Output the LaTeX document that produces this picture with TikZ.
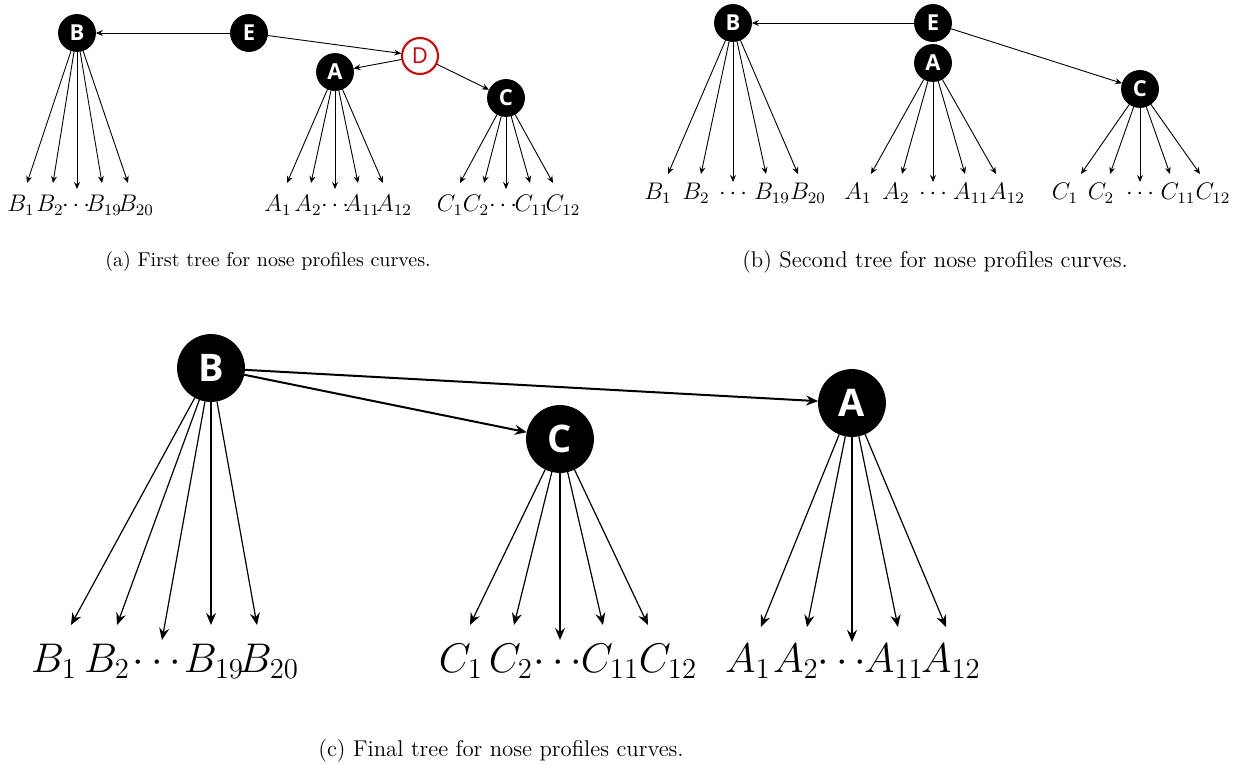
\documentclass[tikz,border=0pt]{standalone}
\usepackage{fontspec}
\newfontfamily\nodefont{Open Sans}
\usetikzlibrary{arrows.meta}
\begin{document}
\begin{tikzpicture}[x=0.5pt,y=-0.5pt,
  nd/.style={circle, fill=black, draw=black, inner sep=0pt, minimum size=18.5pt, text=white, font=\nodefont\bfseries\fontsize{11}{11}\selectfont},
  ndred/.style={circle, fill=white, draw=red!85!black, line width=1pt, inner sep=0pt, minimum size=18pt, text=red!85!black, font=\nodefont\fontsize{11}{11}\selectfont},
  bignd/.style={nd, minimum size=33.5pt, font=\nodefont\bfseries\fontsize{19}{19}\selectfont},
  edg/.style={-{Stealth[length=3.5pt,width=3pt,inset=1.2pt]}, line width=0.45pt},
  bigedg/.style={-{Stealth[length=6pt,width=5pt,inset=2pt]}, line width=0.6pt},
  topedg/.style={bigedg, line width=1pt},
  lblS/.style={font=\fontsize{11.8}{12}\selectfont, inner sep=0pt, anchor=base},
  lblL/.style={font=\fontsize{21}{21}\selectfont, inner sep=0pt, anchor=base},
  capA/.style={font=\fontsize{10}{12}\selectfont, inner sep=0pt},
  capB/.style={font=\fontsize{11.4}{13}\selectfont, inner sep=0pt},
]
\useasboundingbox (0,0) rectangle (1244,765);

% ---------------- panel (a) ----------------
\node[nd] (aB) at (77,33) {B};
\node[nd] (aE) at (249,33) {E};
\node[ndred] (aD) at (420,56) {D};
\node[nd] (aA) at (335,72) {A};
\node[nd] (aC) at (506,98) {C};
\draw[edg] (aE) -- (aB);
\draw[edg] (aE) -- (aD);
\draw[edg] (aD) -- (aA);
\draw[edg] (aD) -- (aC);

\coordinate (aBt1) at (27,183);
\coordinate (aBt2) at (53,183);
\coordinate (aBt3) at (77,189);
\coordinate (aBt4) at (102,183);
\coordinate (aBt5) at (128,183);
\coordinate (aAt1) at (287,183);
\coordinate (aAt2) at (311,183);
\coordinate (aAt3) at (335,189);
\coordinate (aAt4) at (358,183);
\coordinate (aAt5) at (383,183);
\coordinate (aCt1) at (460,183);
\coordinate (aCt2) at (484,183);
\coordinate (aCt3) at (506,189);
\coordinate (aCt4) at (530,183);
\coordinate (aCt5) at (553,183);
\foreach \p in {B,A,C}{
  \foreach \i in {1,...,5}{
    \draw[edg] (a\p) -- (a\p t\i);
  }
}
\node[lblS] (aBl1) at (21,212) {$B_1$};
\node[lblS] (aBl2) at (50,212) {$B_2$};
\node[lblS] (aBl3) at (76,212) {$\cdots$};
\node[lblS] (aBl4) at (104,212) {$B_{19}$};
\node[lblS] (aBl5) at (136,212) {$B_{20}$};
\node[lblS] (aAl1) at (278,212) {$A_1$};
\node[lblS] (aAl2) at (308,212) {$A_2$};
\node[lblS] (aAl3) at (335,212) {$\cdots$};
\node[lblS] (aAl4) at (362,212) {$A_{11}$};
\node[lblS] (aAl5) at (394,212) {$A_{12}$};
\node[lblS] (aCl1) at (450,212) {$C_1$};
\node[lblS] (aCl2) at (476,212) {$C_2$};
\node[lblS] (aCl3) at (503,212) {$\cdots$};
\node[lblS] (aCl4) at (532,212) {$C_{11}$};
\node[lblS] (aCl5) at (563,212) {$C_{12}$};
\node[capA] (capa) at (268,262) {(a) First tree for nose profiles curves.};

% ---------------- panel (b) ----------------
\node[nd] (bB) at (733,23) {B};
\node[nd] (bE) at (933,23) {E};
\node[nd] (bA) at (933,63) {A};
\node[nd] (bC) at (1140,89) {C};
\draw[edg] (bE) -- (bB);
\draw[edg] (bE) -- (bC);

\coordinate (bBt1) at (668,174);
\coordinate (bBt2) at (701,174);
\coordinate (bBt3) at (733,182);
\coordinate (bBt4) at (766,174);
\coordinate (bBt5) at (798,174);
\coordinate (bAt1) at (871,174);
\coordinate (bAt2) at (902,174);
\coordinate (bAt3) at (933,182);
\coordinate (bAt4) at (965,174);
\coordinate (bAt5) at (996,174);
\coordinate (bCt1) at (1081,174);
\coordinate (bCt2) at (1110,174);
\coordinate (bCt3) at (1140,182);
\coordinate (bCt4) at (1170,174);
\coordinate (bCt5) at (1200,174);
\foreach \p in {B,A,C}{
  \foreach \i in {1,...,5}{
    \draw[edg] (b\p) -- (b\p t\i);
  }
}
\node[lblS] (bBl1) at (658,200) {$B_1$};
\node[lblS] (bBl2) at (696,200) {$B_2$};
\node[lblS] (bBl3) at (733,200) {$\cdots$};
\node[lblS] (bBl4) at (772,200) {$B_{19}$};
\node[lblS] (bBl5) at (808,200) {$B_{20}$};
\node[lblS] (bAl1) at (858,200) {$A_1$};
\node[lblS] (bAl2) at (896,200) {$A_2$};
\node[lblS] (bAl3) at (933,200) {$\cdots$};
\node[lblS] (bAl4) at (971,200) {$A_{11}$};
\node[lblS] (bAl5) at (1007,200) {$A_{12}$};
\node[lblS] (bCl1) at (1065,200) {$C_1$};
\node[lblS] (bCl2) at (1101,200) {$C_2$};
\node[lblS] (bCl3) at (1140,200) {$\cdots$};
\node[lblS] (bCl4) at (1178,200) {$C_{11}$};
\node[lblS] (bCl5) at (1213,200) {$C_{12}$};
\node[capB] (capb) at (935,262) {(b) Second tree for nose profiles curves.};

% ---------------- panel (c) ----------------
\node[bignd] (cB) at (211,368) {B};
\node[bignd] (cC) at (560,439) {C};
\node[bignd] (cA) at (852,403) {A};
\draw[topedg] (cB) -- (cA);
\draw[topedg] (cB) -- (cC);

\coordinate (cBt1) at (71,625);
\coordinate (cBt2) at (117,625);
\coordinate (cBt3) at (162,640);
\coordinate (cBt4) at (211,625);
\coordinate (cBt5) at (257,625);
\coordinate (cCt1) at (470,625);
\coordinate (cCt2) at (514,625);
\coordinate (cCt3) at (560,640);
\coordinate (cCt4) at (603,625);
\coordinate (cCt5) at (648,625);
\coordinate (cAt1) at (761,627);
\coordinate (cAt2) at (807,627);
\coordinate (cAt3) at (852,642);
\coordinate (cAt4) at (898,627);
\coordinate (cAt5) at (946,627);
\foreach \p in {B,A,C}{
  \foreach \i in {1,...,5}{
    \draw[bigedg] (c\p) -- (c\p t\i);
  }
}
\node[lblL] (cBl1) at (54,672) {$B_1$};
\node[lblL] (cBl2) at (107,672) {$B_2$};
\node[lblL] (cBl3) at (157,672) {$\cdots$};
\node[lblL] (cBl4) at (214,672) {$B_{19}$};
\node[lblL] (cBl5) at (269,672) {$B_{20}$};
\node[lblL] (cCl1) at (461,672) {$C_1$};
\node[lblL] (cCl2) at (511,672) {$C_2$};
\node[lblL] (cCl3) at (558,672) {$\cdots$};
\node[lblL] (cCl4) at (610,672) {$C_{11}$};
\node[lblL] (cCl5) at (668,672) {$C_{12}$};
\node[lblL] (cAl1) at (748,672) {$A_1$};
\node[lblL] (cAl2) at (796,672) {$A_2$};
\node[lblL] (cAl3) at (842,672) {$\cdots$};
\node[lblL] (cAl4) at (894,672) {$A_{11}$};
\node[lblL] (cAl5) at (951,672) {$A_{12}$};
\node[capB] (capc) at (501,751) {(c) Final tree for nose profiles curves.};
\end{tikzpicture}
\end{document}
